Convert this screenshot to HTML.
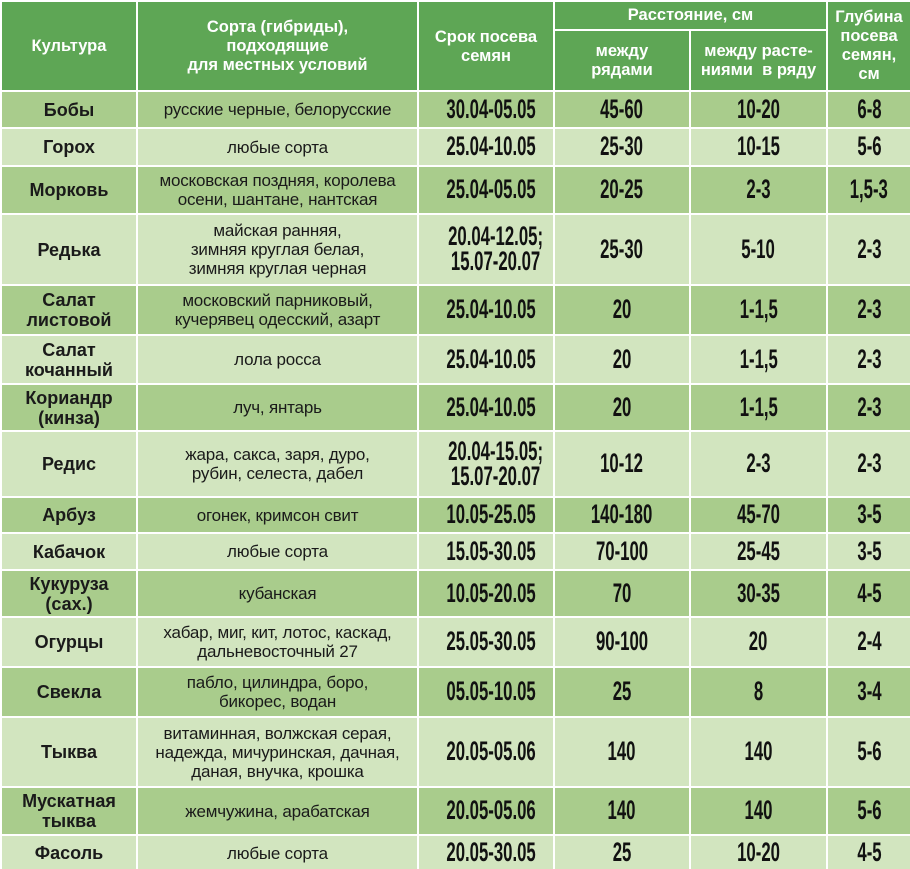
<!DOCTYPE html>
<html><head><meta charset="utf-8"><style>
html,body{margin:0;padding:0;background:#fff;width:910px;height:869px;overflow:hidden}
table{border-collapse:collapse;table-layout:fixed;width:910px;font-family:"Liberation Sans","DejaVu Sans",sans-serif}
td,th{border:2px solid #fff;padding:0;text-align:center;vertical-align:middle;color:#1a1a1a;overflow:hidden}
th{background:#5ea655;color:#fff;font-weight:bold;font-size:16.5px;line-height:19px}
tr.d td{background:#a9cc8c}
tr.l td{background:#d2e5bf}
td.c{font-weight:bold;font-size:18px;line-height:20px}
td.v{font-size:17px;line-height:19px;letter-spacing:-0.2px}
.n{display:inline-block;font-weight:bold;font-size:27px;transform:scaleX(.62);white-space:nowrap;line-height:25px;color:#111}
</style></head><body>
<table>
<colgroup><col style="width:136px"><col style="width:281px"><col style="width:136px"><col style="width:136px"><col style="width:137px"><col style="width:84px"></colgroup>
<tr style="height:29px"><th rowspan="2">Культура</th><th rowspan="2">Сорта (гибриды),<br>подходящие<br>для местных условий</th><th rowspan="2" style="vertical-align:top;padding-top:26px">Срок посева<br>семян</th><th colspan="2">Расстояние, см</th><th rowspan="2">Глубина<br>посева<br>семян,<br>см</th></tr>
<tr style="height:61px"><th>между<br>рядами</th><th>между расте-<br>ниями&nbsp; в ряду</th></tr>
<tr class="d" style="height:37px"><td class="c">Бобы</td><td class="v">русские черные, белорусские</td><td><span class="n">30.04-05.05</span></td><td><span class="n">45-60</span></td><td><span class="n">10-20</span></td><td><span class="n">6-8</span></td></tr>
<tr class="l" style="height:38px"><td class="c">Горох</td><td class="v">любые сорта</td><td><span class="n">25.04-10.05</span></td><td><span class="n">25-30</span></td><td><span class="n">10-15</span></td><td><span class="n">5-6</span></td></tr>
<tr class="d" style="height:48px"><td class="c">Морковь</td><td class="v">московская поздняя, королева<br>осени, шантане, нантская</td><td><span class="n">25.04-05.05</span></td><td><span class="n">20-25</span></td><td><span class="n">2-3</span></td><td><span class="n">1,5-3</span></td></tr>
<tr class="l" style="height:71px"><td class="c">Редька</td><td class="v">майская ранняя,<br>зимняя круглая белая,<br>зимняя круглая черная</td><td><span class="n">20.04-12.05;<br>15.07-20.07</span></td><td><span class="n">25-30</span></td><td><span class="n">5-10</span></td><td><span class="n">2-3</span></td></tr>
<tr class="d" style="height:50px"><td class="c">Салат<br>листовой</td><td class="v">московский парниковый,<br>кучерявец одесский, азарт</td><td><span class="n">25.04-10.05</span></td><td><span class="n">20</span></td><td><span class="n">1-1,5</span></td><td><span class="n">2-3</span></td></tr>
<tr class="l" style="height:49px"><td class="c">Салат<br>кочанный</td><td class="v">лола росса</td><td><span class="n">25.04-10.05</span></td><td><span class="n">20</span></td><td><span class="n">1-1,5</span></td><td><span class="n">2-3</span></td></tr>
<tr class="d" style="height:47px"><td class="c">Кориандр<br>(кинза)</td><td class="v">луч, янтарь</td><td><span class="n">25.04-10.05</span></td><td><span class="n">20</span></td><td><span class="n">1-1,5</span></td><td><span class="n">2-3</span></td></tr>
<tr class="l" style="height:66px"><td class="c">Редис</td><td class="v">жара, сакса, заря, дуро,<br>рубин, селеста, дабел</td><td><span class="n">20.04-15.05;<br>15.07-20.07</span></td><td><span class="n">10-12</span></td><td><span class="n">2-3</span></td><td><span class="n">2-3</span></td></tr>
<tr class="d" style="height:36px"><td class="c">Арбуз</td><td class="v">огонек, кримсон свит</td><td><span class="n">10.05-25.05</span></td><td><span class="n">140-180</span></td><td><span class="n">45-70</span></td><td><span class="n">3-5</span></td></tr>
<tr class="l" style="height:37px"><td class="c">Кабачок</td><td class="v">любые сорта</td><td><span class="n">15.05-30.05</span></td><td><span class="n">70-100</span></td><td><span class="n">25-45</span></td><td><span class="n">3-5</span></td></tr>
<tr class="d" style="height:47px"><td class="c">Кукуруза<br>(сах.)</td><td class="v">кубанская</td><td><span class="n">10.05-20.05</span></td><td><span class="n">70</span></td><td><span class="n">30-35</span></td><td><span class="n">4-5</span></td></tr>
<tr class="l" style="height:50px"><td class="c">Огурцы</td><td class="v">хабар, миг, кит, лотос, каскад,<br>дальневосточный 27</td><td><span class="n">25.05-30.05</span></td><td><span class="n">90-100</span></td><td><span class="n">20</span></td><td><span class="n">2-4</span></td></tr>
<tr class="d" style="height:50px"><td class="c">Свекла</td><td class="v">пабло, цилиндра, боро,<br>бикорес, водан</td><td><span class="n">05.05-10.05</span></td><td><span class="n">25</span></td><td><span class="n">8</span></td><td><span class="n">3-4</span></td></tr>
<tr class="l" style="height:70px"><td class="c">Тыква</td><td class="v">витаминная, волжская серая,<br>надежда, мичуринская, дачная,<br>даная, внучка, крошка</td><td><span class="n">20.05-05.06</span></td><td><span class="n">140</span></td><td><span class="n">140</span></td><td><span class="n">5-6</span></td></tr>
<tr class="d" style="height:48px"><td class="c">Мускатная<br>тыква</td><td class="v">жемчужина, арабатская</td><td><span class="n">20.05-05.06</span></td><td><span class="n">140</span></td><td><span class="n">140</span></td><td><span class="n">5-6</span></td></tr>
<tr class="l" style="height:36px"><td class="c">Фасоль</td><td class="v">любые сорта</td><td><span class="n">20.05-30.05</span></td><td><span class="n">25</span></td><td><span class="n">10-20</span></td><td><span class="n">4-5</span></td></tr>
</table>
</body></html>
